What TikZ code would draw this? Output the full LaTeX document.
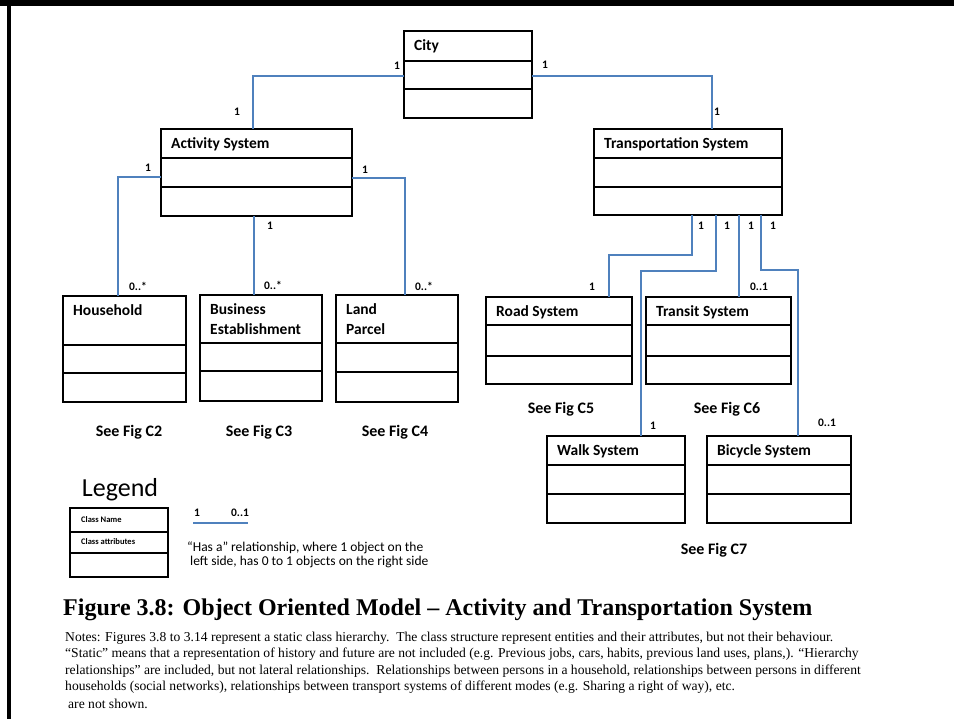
\documentclass[tikz,border=0pt]{standalone}
\usepackage{fontspec}
\setmainfont{Carlito}
\newfontfamily\capfont{Liberation Serif}
\usetikzlibrary{calc}
\definecolor{conblue}{RGB}{79,129,189}
\newcommand{\umlclass}[8]{%
  \node[clsbox, anchor=north west, minimum width=#4, minimum height=#5] (#1) at (#2,#3) {};
  \draw[divline] ($(#1.north west)+(0,#6)$) -- ($(#1.north east)+(0,#6)$);
  \draw[divline] ($(#1.north west)+(0,#7)$) -- ($(#1.north east)+(0,#7)$);
  \node[clstitle, anchor=north west] (#1-t) at ($(#1.north west)+(10,8)$) {#8};
}
\begin{document}
\begin{tikzpicture}[x=1pt,y=-1pt,
  clsbox/.style={draw=black, line width=2pt, inner sep=0pt, outer sep=0pt},
  divline/.style={draw=black, line width=1.5pt},
  clstitle/.style={font=\fontsize{15.5}{20}\selectfont\bfseries, align=left, inner sep=0pt, text depth=0pt},
  conn/.style={draw=conblue, line width=1.6pt},
  mult/.style={font=\fontsize{11.5}{12}\selectfont\bfseries, inner sep=0pt},
  seefig/.style={font=\fontsize{16}{18}\selectfont\bfseries, inner sep=0pt},
  notes/.style={font=\capfont\fontsize{13.6}{14}\selectfont, anchor=west, inner sep=0pt}
]
\useasboundingbox (0,0) rectangle (954,719);
\fill[white] (0,0) rectangle (954,719);
% frame
\fill[black] (0,0) rectangle (954,6);
\fill[black] (7,0) rectangle (11,719);

% classes: name, x, y, w, h, d1, d2, title
\umlclass{city}{404}{31}{128}{87}{30}{58}{City}
\umlclass{act}{161}{129}{191}{87}{29}{58}{Activity System}
\umlclass{trans}{594}{129}{188}{86}{29}{58}{Transportation System}
\umlclass{hh}{63}{296}{123}{106}{49}{77}{Household}
\umlclass{bus}{200}{295}{122}{106}{48}{76}{Business\\Establishment}
\umlclass{land}{336}{295}{122}{107}{48}{77}{Land\\Parcel}
\umlclass{road}{486}{297}{146}{87}{28}{59}{Road System}
\umlclass{transit}{646}{297}{145}{87}{28}{59}{Transit System}
\umlclass{walk}{547}{436}{138}{87}{29}{58}{Walk System}
\umlclass{bike}{707}{436}{144}{87}{29}{58}{Bicycle System}

% connectors
\draw[conn] ($(city.north west)+(0,45)$) -| ($(act.north west)+(92,0)$);
\draw[conn] ($(city.north east)+(0,45)$) -| ($(trans.north west)+(118,0)$);
\draw[conn] ($(act.north west)+(0,48)$) -| ($(hh.north west)+(55,0)$);
\draw[conn] ($(act.south west)+(93,0)$) -- ($(bus.north west)+(54,0)$);
\draw[conn] ($(act.north east)+(0,49)$) -| ($(land.north west)+(69,0)$);
\draw[conn] ($(trans.south west)+(98,0)$) -- ++(0,40) -| ($(road.north west)+(123,0)$);
\draw[conn] ($(trans.south west)+(122,0)$) -- ++(0,56) -| ($(walk.north west)+(94,0)$);
\draw[conn] ($(trans.south west)+(145,0)$) -- ($(transit.north west)+(93,0)$);
\draw[conn] ($(trans.south west)+(167,0)$) -- ++(0,55) -| ($(bike.north west)+(91,0)$);

% multiplicities
\node[mult] (m1) at (397,66) {1};
\node[mult] (m2) at (545,65) {1};
\node[mult] (m3) at (237,112) {1};
\node[mult] (m4) at (717,112) {1};
\node[mult] (m5) at (148,168) {1};
\node[mult] (m6) at (365,170) {1};
\node[mult] (m7) at (270,226) {1};
\node[mult] (m8) at (138,286) {0..*};
\node[mult] (m9) at (273,285) {0..*};
\node[mult] (m10) at (424,286) {0..*};
\node[mult] (m11) at (701,226) {1};
\node[mult] (m12) at (727,226) {1};
\node[mult] (m13) at (751,226) {1};
\node[mult] (m14) at (773,226) {1};
\node[mult] (m15) at (592,287) {1};
\node[mult] (m16) at (759,287) {0..1};
\node[mult] (m17) at (653,426) {1};
\node[mult] (m18) at (827,423) {0..1};

% see fig
\node[seefig] (s2) at (129,432) {See Fig C2};
\node[seefig] (s3) at (259,432) {See Fig C3};
\node[seefig] (s4) at (395,432) {See Fig C4};
\node[seefig] (s5) at (561,409) {See Fig C5};
\node[seefig] (s6) at (727,409) {See Fig C6};
\node[seefig] (s7) at (714,550) {See Fig C7};

% legend
\node[font=\fontsize{26}{28}\selectfont, inner sep=0pt] (legt) at (120,490) {Legend};
\node[clsbox, anchor=north west, minimum width=98pt, minimum height=69pt] (leg) at (70,508) {};
\draw[divline] ($(leg.north west)+(0,24)$) -- ($(leg.north east)+(0,24)$);
\draw[divline] ($(leg.north west)+(0,45)$) -- ($(leg.north east)+(0,45)$);
\node[font=\fontsize{8.5}{9}\selectfont\bfseries, anchor=west, inner sep=0pt] (legn) at (81,520) {Class Name};
\node[font=\fontsize{8.5}{9}\selectfont\bfseries, anchor=west, inner sep=0pt] (lega) at (81,542) {Class attributes};
\coordinate (la) at (193,523);
\coordinate (lb) at (248,523);
\draw[conn] (la) -- (lb);
\node[mult] (l1) at (197,513) {1};
\node[mult] (l2) at (240,513) {0..1};
\node[font=\fontsize{13.5}{14.5}\selectfont, anchor=west, inner sep=0pt] (legx1) at (187,548) {“Has a” relationship, where 1 object on the};
\node[font=\fontsize{13.5}{14.5}\selectfont, anchor=west, inner sep=0pt] (legx2) at (190,562) {left side, has 0 to 1 objects on the right side};

% caption
\node[font=\capfont\bfseries\fontsize{24}{26}\selectfont, anchor=west, inner sep=0pt] (cap) at (63,610) {Figure 3.8: Object Oriented Model – Activity and Transportation System};

% notes
\node[notes] (n1) at (65,638) {Notes: Figures 3.8 to 3.14 represent a static class hierarchy.\ \ The class structure represent entities and their attributes, but not their behaviour.};
\node[notes] (n2) at (65,654.5) {“Static” means that a representation of history and future are not included (e.g. Previous jobs, cars, habits, previous land uses, plans,). “Hierarchy};
\node[notes] (n3) at (65,671) {relationships” are included, but not lateral relationships.\ \ Relationships between persons in a household, relationships between persons in different};
\node[notes] (n4) at (65,687.5) {households (social networks), relationships between transport systems of different modes (e.g. Sharing a right of way), etc.};
\node[notes] (n5) at (68,704) {are not shown.};
\end{tikzpicture}
\end{document}
